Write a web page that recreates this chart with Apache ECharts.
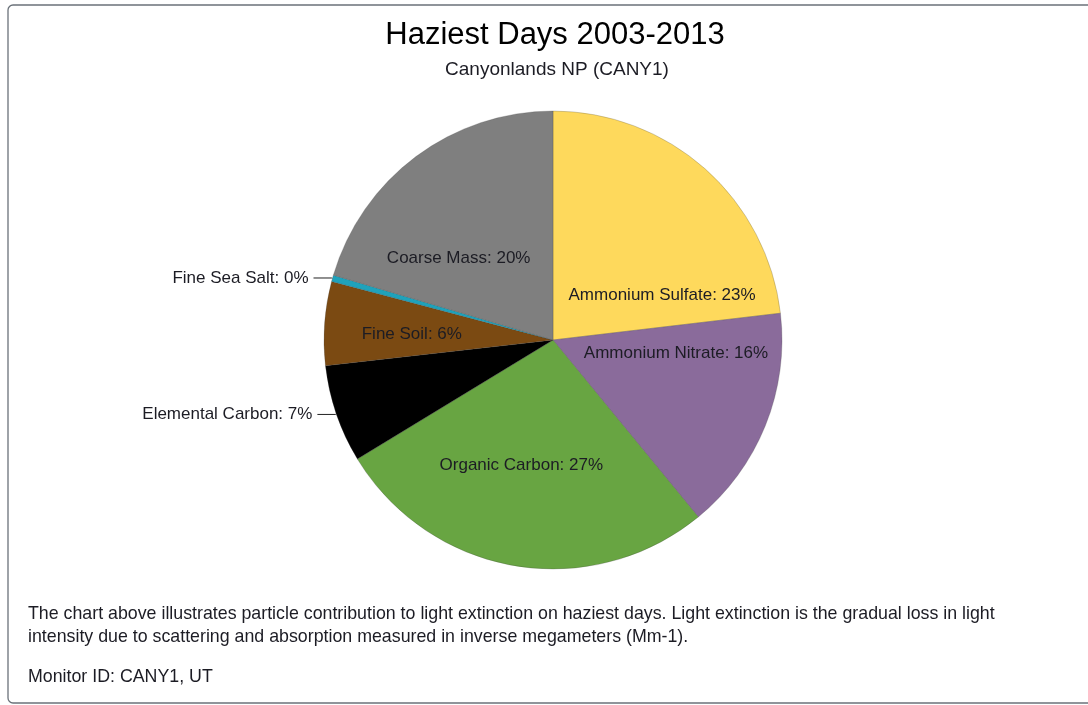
<!DOCTYPE html>
<html>
<head>
<meta charset="utf-8">
<title>Haziest Days 2003-2013</title>
<script src="https://cdn.jsdelivr.net/npm/echarts@6/dist/echarts.min.js"></script>
<style>
  html, body { margin: 0; padding: 0; background: #ffffff; }
  #chart { width: 1088px; height: 705px; }
</style>
</head>
<body>
<div id="chart"></div>
<script>
// Contribution of each particle species to light extinction (share of total, %)
const species = [
  'Ammonium Sulfate',
  'Ammonium Nitrate',
  'Organic Carbon',
  'Elemental Carbon',
  'Fine Soil',
  'Fine Sea Salt',
  'Coarse Mass'
];
const shares = [23.1, 15.9, 27.2, 6.9, 5.9, 0.45, 20.4];

// Slice colours, one per species
const sliceColors = ['#fed95c', '#8a6b9b', '#68a542', '#000000', '#7b4a12', '#1fa2bb', '#7f7f7f'];

// Species whose labels sit outside the pie with a leader line
const outsideLabels = ['Elemental Carbon', 'Fine Sea Salt'];

// Nudges for the inside labels so they sit clear of slice edges
const insideNudge = {
  'Ammonium Sulfate': [31, 43],
  'Ammonium Nitrate': [14, -31],
  'Organic Carbon': [-12, 9],
  'Fine Soil': [-24, 3],
  'Coarse Mass': [-24, 12]
};

const FONT = '"Liberation Sans", Arial, Helvetica, sans-serif';
const TEXT_COLOR = '#1c1c24';
const BODY_SIZE = 17.8;

const pieData = species.map(function (name, i) {
  const item = {
    name: name,
    value: shares[i],
    itemStyle: { color: sliceColors[i] }
  };
  if (outsideLabels.indexOf(name) >= 0) {
    item.label = { position: 'outside', distance: 2 };
    item.labelLine = { show: true };
  } else {
    item.label = { position: 'inside', offset: insideNudge[name] || [0, 0] };
    item.labelLine = { show: false };
  }
  return item;
});

const chart = echarts.init(document.getElementById('chart'), null, { renderer: 'canvas' });

function bodyText(x, y, text) {
  return {
    type: 'text',
    x: x, y: y,
    style: {
      text: text,
      font: BODY_SIZE + 'px ' + FONT,
      fill: TEXT_COLOR,
      textAlign: 'left',
      textVerticalAlign: 'middle'
    }
  };
}

chart.setOption({
  backgroundColor: '#ffffff',
  animation: false,
  graphic: [
    {
      type: 'rect',
      shape: { x: 8, y: 5, width: 1100, height: 698, r: 5 },
      style: { fill: 'none', stroke: '#6b727a', lineWidth: 1.3 },
      silent: true
    },
    {
      type: 'text',
      x: 555, y: 35,
      style: {
        text: 'Haziest Days 2003-2013',
        font: '31px ' + FONT,
        fill: '#000000',
        textAlign: 'center',
        textVerticalAlign: 'middle'
      }
    },
    {
      type: 'text',
      x: 557, y: 70,
      style: {
        text: 'Canyonlands NP (CANY1)',
        font: '19px ' + FONT,
        fill: TEXT_COLOR,
        textAlign: 'center',
        textVerticalAlign: 'middle'
      }
    },
    bodyText(28, 614, 'The chart above illustrates particle contribution to light extinction on haziest days. Light extinction is the gradual loss in light'),
    bodyText(28, 637, 'intensity due to scattering and absorption measured in inverse megameters (Mm-1).'),
    bodyText(28, 677, 'Monitor ID: CANY1, UT')
  ],
  series: [
    {
      type: 'pie',
      center: [553, 340],
      radius: [0, 229],
      startAngle: 90,
      clockwise: true,
      avoidLabelOverlap: false,
      silent: true,
      itemStyle: {
        borderColor: 'rgba(60,60,60,0.35)',
        borderWidth: 0.7
      },
      label: {
        show: true,
        color: TEXT_COLOR,
        fontFamily: FONT,
        fontSize: 17,
        formatter: function (p) {
          return p.name + ': ' + Math.round(p.percent) + '%';
        }
      },
      labelLine: {
        length: 1,
        length2: 18,
        lineStyle: { color: '#222222', width: 1 }
      },
      data: pieData
    }
  ]
});
</script>
</body>
</html>
